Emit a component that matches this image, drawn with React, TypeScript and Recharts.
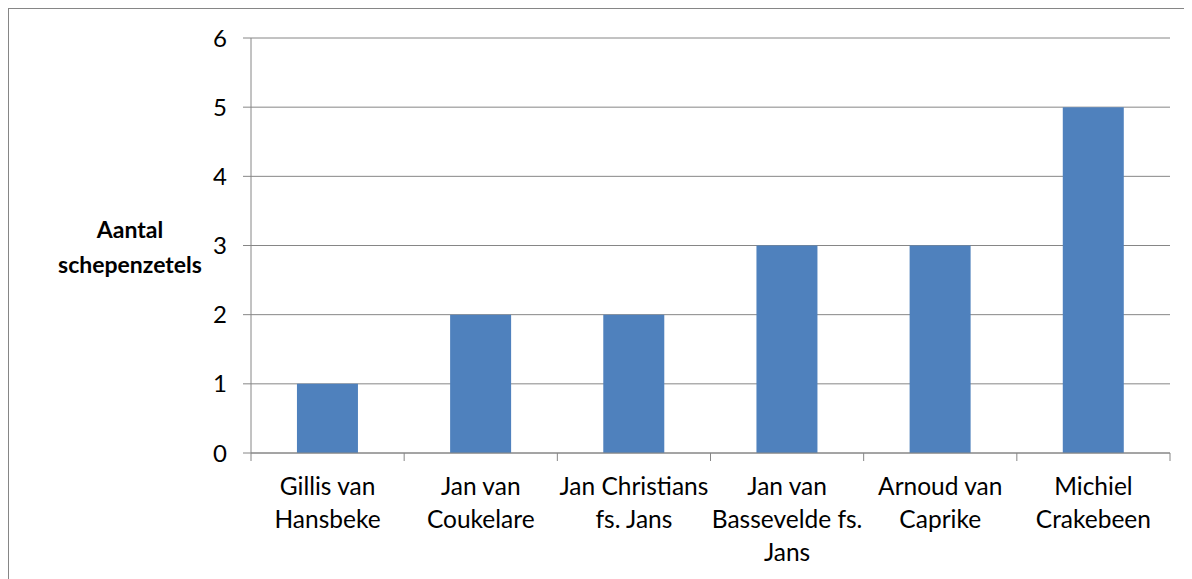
import React from "react";
import { BarChart, Bar, XAxis, YAxis, CartesianGrid } from "recharts";

const categories = [
  "Gillis van Hansbeke",
  "Jan van Coukelare",
  "Jan Christians fs. Jans",
  "Jan van Bassevelde fs. Jans",
  "Arnoud van Caprike",
  "Michiel Crakebeen",
];
const values = [1, 2, 2, 3, 3, 5];
const categoryLabelLines = [
  ["Gillis van", "Hansbeke"],
  ["Jan van", "Coukelare"],
  ["Jan Christians", "fs. Jans"],
  ["Jan van", "Bassevelde fs.", "Jans"],
  ["Arnoud van", "Caprike"],
  ["Michiel", "Crakebeen"],
];
const yTicks = [0, 1, 2, 3, 4, 5, 6];
const yAxisTitle = ["Aantal", "schepenzetels"];

const data = categories.map((name, i) => ({ name, value: values[i], idx: i }));

const W = 1184;
const H = 571;
const MARGIN = { top: 30, right: 22, bottom: 0, left: 0 };
const YAXIS_W = 243;
const FONT = "Lato, 'Open Sans', sans-serif";
const GRID = "#868686";

const CatTick = (props: any) => {
  const { x, y, payload } = props;
  const idx = payload.index ?? 0;
  const half =
    typeof payload.offset === "number" && payload.offset > 0
      ? payload.offset
      : (W - MARGIN.left - MARGIN.right - YAXIS_W) / categories.length / 2;
  const lines = categoryLabelLines[idx] || [String(payload.value)];
  return (
    <g>
      <line x1={x - half} x2={x - half} y1={y - 8} y2={y} stroke={GRID} strokeWidth={1} />
      {idx === categories.length - 1 && (
        <line x1={x + half} x2={x + half} y1={y - 8} y2={y} stroke={GRID} strokeWidth={1} />
      )}
      <text x={x} y={y} textAnchor="middle" fontFamily={FONT} fontSize={24.5} fill="#000">
        {lines.map((l, i) => (
          <tspan key={i} x={x} y={y + 34 + i * 33}>
            {l}
          </tspan>
        ))}
      </text>
    </g>
  );
};

const YTitle = (props: any) => {
  const vb = props.viewBox || {};
  const cy = (vb.y ?? MARGIN.top) + (vb.height ?? 0) / 2;
  const cx = 122;
  return (
    <text x={cx} y={cy} textAnchor="middle" fontFamily={FONT} fontSize={23} fontWeight="bold" fill="#000">
      {yAxisTitle.map((l, i) => (
        <tspan key={i} x={cx} y={cy - 8 + i * 35}>
          {l}
        </tspan>
      ))}
    </text>
  );
};

export default function App() {
  return (
    <div style={{ position: "relative", width: W, height: H, overflow: "hidden", background: "#fff" }}>
      <BarChart width={W} height={H} data={data} margin={MARGIN} barCategoryGap="30%">
        <CartesianGrid vertical={false} stroke={GRID} strokeWidth={1} />
        <XAxis
          dataKey="name"
          height={126}
          interval={0}
          tickLine={false}
          tickSize={8}
          tickMargin={0}
          axisLine={{ stroke: GRID, strokeWidth: 1 }}
          tick={<CatTick />}
        />
        <YAxis
          width={YAXIS_W}
          domain={[0, 6]}
          ticks={yTicks}
          interval={0}
          tickSize={8}
          tickMargin={16}
          tickLine={{ stroke: GRID }}
          axisLine={{ stroke: GRID, strokeWidth: 1 }}
          tick={{ fill: "#000", fontSize: 24, fontFamily: FONT }}
          label={<YTitle />}
        />
        <Bar dataKey="value" fill="#4F81BD" isAnimationActive={false} />
      </BarChart>
      <div
        style={{
          position: "absolute",
          left: 0,
          top: 0,
          width: "100%",
          height: "100%",
          borderTop: "1px solid " + GRID,
          borderLeft: "1px solid " + GRID,
          boxSizing: "border-box",
          pointerEvents: "none",
        }}
      />
    </div>
  );
}
